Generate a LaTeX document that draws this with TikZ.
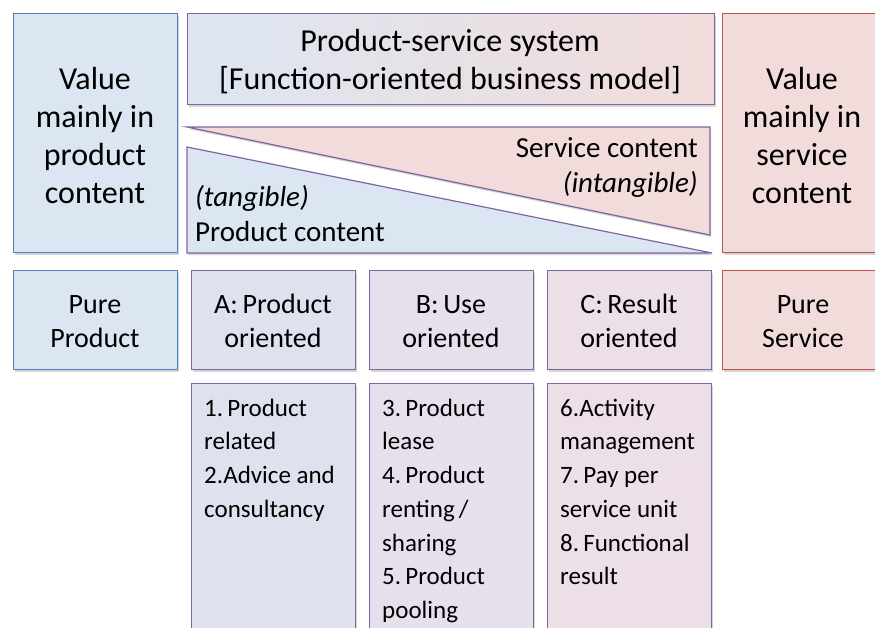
\documentclass[tikz,border=0pt]{standalone}
\usepackage{fontspec}
\setmainfont{Carlito}
\usetikzlibrary{shadows}
\definecolor{bluefill}{HTML}{DCE6F2}
\definecolor{blueline}{HTML}{4F81BD}
\definecolor{pinkfill}{HTML}{F2DCDB}
\definecolor{redline}{HTML}{C0504D}
\definecolor{purpleline}{HTML}{8064A2}
\definecolor{afill}{HTML}{DFE1EE}
\definecolor{bfill}{HTML}{E6E0EC}
\definecolor{cfill}{HTML}{EDDFE8}
\begin{document}
\begin{tikzpicture}[x=1pt,y=-1pt,
  shad/.style={drop shadow={shadow xshift=1.2pt,shadow yshift=-2pt,opacity=0.28,fill=black!60}},
  box/.style={draw,line width=1.2pt,rectangle,inner sep=0pt,anchor=north west,shad},
  bluebox/.style={box,draw=blueline,fill=bluefill},
  pinkbox/.style={box,draw=redline,fill=pinkfill},
  purplebox/.style={box,draw=purpleline},
  bigtxt/.style={inner sep=0pt,anchor=north,align=center,font=\fontsize{32}{38}\selectfont},
  midtxt/.style={inner sep=0pt,align=center,font=\fontsize{29}{35}\selectfont},
  rowtxt/.style={inner sep=0pt,anchor=north,align=center,font=\fontsize{28}{34}\selectfont},
  listtxt/.style={inner sep=0pt,anchor=north west,align=left,font=\fontsize{25}{33.7}\selectfont}]
\useasboundingbox (0,0) rectangle (875,627);

% top row
\node[bluebox,minimum width=164pt,minimum height=239pt] (lbox) at (13,13) {};
\node[bigtxt] (ltxt) at (95,62.4) {\strut Value\\mainly in\\product\\content};

\node[purplebox,left color=bluefill,right color=pinkfill,minimum width=527pt,minimum height=91pt] (pss) at (187,13) {};
\node[bigtxt] (psstxt) at (450,24.4) {\strut Product-service system\\{}[Function-oriented business model]};

\node[pinkbox,minimum width=168pt,minimum height=239pt] (rbox) at (722,13) {};
\node[bigtxt] (rtxt) at (802,62.4) {\strut Value\\mainly in\\service\\content};

% triangles
\coordinate (s1) at (187,127);
\coordinate (s2) at (710,127);
\coordinate (s3) at (710,235);
\fill[pinkfill,shad] (s1) -- (s2) -- (s3) -- cycle;
\draw[purpleline,line width=1.2pt,line join=miter] (s1) -- (s2) -- (s3) -- cycle;
\coordinate (p1) at (187,147);
\coordinate (p2) at (187,253);
\coordinate (p3) at (712,253);
\fill[bluefill,shad] (p1) -- (p2) -- (p3) -- cycle;
\draw[purpleline,line width=1.2pt,line join=miter] (p1) -- (p2) -- (p3) -- cycle;

\node[midtxt,anchor=base east] (sc) at (698,157) {Service content};
\node[midtxt,anchor=base east] (sci) at (698,192) {\itshape (intangible)};
\node[midtxt,anchor=base west] (pct) at (195,206) {\itshape (tangible)};
\node[midtxt,anchor=base west] (pc) at (195,241) {Product content};

% second row
\node[bluebox,minimum width=164pt,minimum height=99pt] (pp) at (13,270) {};
\node[rowtxt] (pptxt) at (95,289.2) {\strut Pure\\Product};
\node[purplebox,fill=afill,minimum width=164pt,minimum height=99pt] (a) at (191,270) {};
\node[rowtxt] (atxt) at (273,289.2) {\strut A:\,Product\\oriented};
\node[purplebox,fill=bfill,minimum width=164pt,minimum height=99pt] (b) at (369,270) {};
\node[rowtxt] (btxt) at (451,289.2) {\strut B:\,Use\\oriented};
\node[purplebox,fill=cfill,minimum width=164pt,minimum height=99pt] (c) at (547,270) {};
\node[rowtxt] (ctxt) at (629,289.2) {\strut C:\,Result\\oriented};
\node[pinkbox,minimum width=168pt,minimum height=99pt] (ps) at (722,270) {};
\node[rowtxt] (pstxt) at (803,289.2) {\strut Pure\\Service};

% third row
\node[purplebox,fill=afill,minimum width=164pt,minimum height=270pt] (al) at (191,383) {};
\node[listtxt] (altxt) at (204,392.4) {\strut 1.\,Product\\related\\2.Advice and\\consultancy};
\node[purplebox,fill=bfill,minimum width=164pt,minimum height=270pt] (bl) at (369,383) {};
\node[listtxt] (bltxt) at (382,392.4) {\strut 3.\,Product\\lease\\4.\,Product\\renting\,/\\sharing\\5.\,Product\\pooling};
\node[purplebox,fill=cfill,minimum width=164pt,minimum height=270pt] (cl) at (547,383) {};
\node[listtxt] (cltxt) at (560,392.4) {\strut 6.Activity\\management\\7.\,Pay per\\service unit\\8.\,Functional\\result};
\end{tikzpicture}
\end{document}
